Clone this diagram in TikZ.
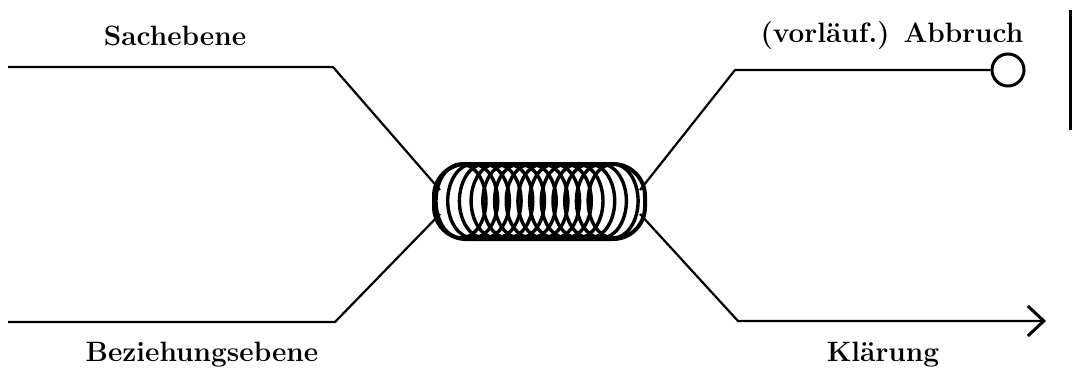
\documentclass[tikz,border=0pt]{standalone}
\usetikzlibrary{arrows.meta,shapes.geometric}
\begin{document}
\begin{tikzpicture}[x=1pt,y=-1pt,
  lbl/.style={font=\fontsize{28}{30}\selectfont\bfseries, inner sep=0pt},
  wire/.style={line width=2.2pt, line join=round},
  coilring/.style={ellipse, draw, line width=3.4pt, minimum width=50pt, minimum height=74pt, inner sep=0pt}]
\useasboundingbox (0,0) rectangle (1073,375);
% labels
\node[lbl] (sach) at (175,36) {Sachebene};
\node[lbl] (bez) at (202,355) {Beziehungsebene};
\node[lbl] (abb) at (892,36) {(vorläuf.) Abbruch};
\node[lbl] (kl) at (883,355) {Klärung};
% coil
\foreach \i in {0,...,13} {
  \node[coilring] (r\i) at ({461+\i*11.7},201) {};
}
\draw[line width=4pt, rounded corners=32pt] (434,164) rectangle (645,239);
\coordinate (cl1) at (440,190);
\coordinate (cl2) at (440,214);
\coordinate (cr1) at (640,190);
\coordinate (cr2) at (640,214);
% left wires
\coordinate (a0) at (8,67);
\coordinate (a1) at (333,67);
\coordinate (b0) at (8,322);
\coordinate (b1) at (335,322);
\draw[wire] (a0) -- (a1) -- (cl1);
\draw[wire] (b0) -- (b1) -- (cl2);
% right wires
\coordinate (c1) at (735,70);
\node[circle, draw, line width=3pt, minimum size=32pt, inner sep=0pt] (end) at (1008,70) {};
\draw[wire] (cr1) -- (c1) -- (end.west);
\coordinate (d1) at (738,321);
\coordinate (d2) at (1046,321);
\draw[wire, -{Straight Barb[length=16pt, width=30pt, line width=3pt]}] (cr2) -- (d1) -- (d2);
% bar
\coordinate (bt) at (1070,10);
\coordinate (bb) at (1070,130);
\draw[line width=3pt] (bt) -- (bb);
\end{tikzpicture}
\end{document}
